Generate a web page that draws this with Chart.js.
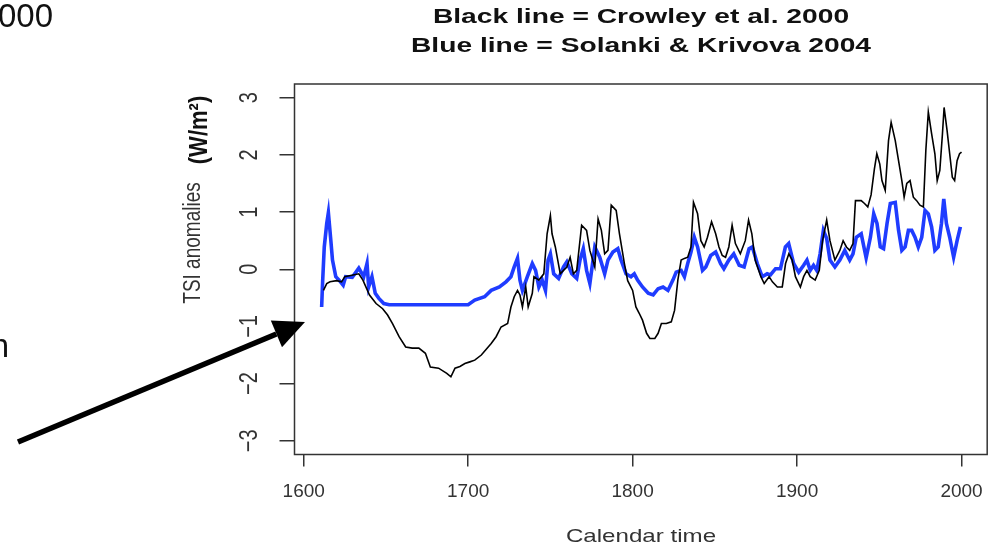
<!DOCTYPE html>
<html>
<head>
<meta charset="utf-8">
<script src="https://cdn.jsdelivr.net/npm/chart.js@4.4.1/dist/chart.umd.min.js"></script>
<style>
  html, body { margin: 0; padding: 0; background: #fff; }
  #wrap { position: relative; width: 997px; height: 547px; }
</style>
</head>
<body>
<div id="wrap"><canvas id="tsiChart"></canvas></div>
<script>
const titleLines = ['Black line = Crowley et al. 2000', 'Blue line = Solanki & Krivova 2004'];
const xTicks = [1600, 1700, 1800, 1900, 2000];
const yTicks = [-3, -2, -1, 0, 1, 2, 3];

// Crowley et al. 2000 (black)
const crowleyYears = [1612, 1614, 1616, 1620, 1623, 1625, 1630, 1633.5, 1636, 1640, 1644, 1648, 1651, 1654, 1658, 1662, 1666, 1670, 1674, 1677,
  1682, 1687, 1689.5, 1692, 1695, 1698, 1701, 1704, 1708, 1711, 1714, 1717, 1720, 1724, 1726, 1728, 1730, 1731.5, 1733, 1735,
  1736.5, 1739, 1740, 1743, 1746, 1748, 1750, 1751, 1753, 1756, 1758, 1760, 1762, 1764, 1766, 1769, 1772, 1774, 1777, 1779,
  1781, 1783, 1785, 1787, 1790, 1792, 1795, 1797, 1800, 1802, 1804, 1806, 1808.5, 1810.5, 1813.5, 1815.5, 1817.5, 1820.5, 1823.5, 1825.5,
  1827.5, 1829.5, 1831.5, 1833.5, 1835.5, 1837, 1839.5, 1841.5, 1843.5, 1845.5, 1848, 1850.5, 1852.5, 1854.5, 1856.5, 1858.5,
  1860.5, 1862.5, 1865.5, 1868.5, 1870.5, 1872.5, 1874.5, 1878, 1880, 1883, 1885, 1888, 1891, 1893, 1895, 1897, 1899, 1902, 1904, 1906,
  1908, 1911, 1913.5, 1915.5, 1918, 1920, 1923, 1926, 1928, 1930, 1932, 1934, 1935.5, 1939, 1941, 1943, 1945, 1947, 1948.5, 1950.3,
  1951.6, 1953.6, 1955.6, 1957.2, 1959.7, 1961.7, 1963.7, 1965.1, 1966.7, 1968.7, 1970.7, 1972.7, 1974.7, 1976.8, 1978.3, 1979.8, 1981.8, 1983.8, 1985.2, 1986.8,
  1988.4, 1989.4, 1991.2, 1992.8, 1994.4, 1995.8, 1997.3, 1998.8, 2000];
const crowleyTsi = [-0.37, -0.25, -0.22, -0.2, -0.22, -0.13, -0.1, -0.08, -0.19, -0.45, -0.6, -0.69, -0.8, -0.95, -1.18, -1.36, -1.38, -1.38, -1.47, -1.71,
  -1.73, -1.82, -1.88, -1.73, -1.7, -1.65, -1.62, -1.59, -1.5, -1.4, -1.3, -1.18, -1.01, -0.95, -0.66, -0.48, -0.37, -0.45, -0.66, -0.31,
  -0.66, -0.42, -0.13, -0.19, -0.08, 0.62, 0.94, 0.62, 0.39, -0.08, -0.02, 0.04, 0.21, -0.08, -0.02, 0.77, 0.68, 0.33, 0.04, 0.88,
  0.68, 0.27, 0.33, 1.12, 1.03, 0.62, 0.1, -0.2, -0.37, -0.66, -0.77, -0.89, -1.12, -1.21, -1.21, -1.12, -0.95, -0.95, -0.92, -0.72,
  -0.19, 0.16, 0.19, 0.21, 0.39, 1.17, 0.97, 0.5, 0.39, 0.56, 0.83, 0.62, 0.39, 0.24, 0.21, 0.39,
  0.77, 0.45, 0.27, 0.5, 0.86, 0.62, 0.16, -0.13, -0.25, -0.13, -0.22, -0.31, -0.31, 0.1, 0.27, 0.16, -0.13, -0.31, -0.13, -0.02,
  -0.13, -0.19, -0.02, 0.5, 0.86, 0.5, 0.16, 0.33, 0.5, 0.39, 0.33, 0.45, 1.2, 1.2, 1.15, 1.09, 1.3, 1.75, 2.02, 1.84,
  1.55, 1.38, 2.25, 2.57, 2.25, 1.9, 1.55, 1.26, 1.5, 1.55, 1.26, 1.2, 1.12, 1.09, 2.08, 2.75, 2.37, 2.02, 1.55, 1.73,
  2.37, 2.83, 2.43, 2.02, 1.61, 1.55, 1.9, 2.02, 2.05];

// Solanki & Krivova 2004 (blue)
const solankiYears = [1610.9, 1611.5, 1612.5, 1614, 1615, 1616.5, 1617.5, 1619.5, 1621.5, 1624, 1625.5, 1629.5, 1633.5, 1636.5, 1638.5, 1639.5, 1641.5, 1643.5, 1645.7, 1648.7,
  1652, 1700, 1704, 1710, 1714, 1719, 1723, 1726, 1728, 1730, 1731.5, 1733, 1736, 1739, 1741, 1743, 1745, 1747, 1748.6, 1750,
  1752, 1755, 1758, 1760, 1763, 1766, 1768, 1770, 1772, 1774, 1777, 1780, 1783, 1785, 1788, 1791, 1793, 1796, 1799, 1801,
  1803, 1806, 1809.5, 1812.5, 1815.5, 1818.5, 1821.5, 1824.5, 1826.5, 1829.5, 1831.5, 1833.5, 1835.5, 1837.5, 1839.5, 1842.5, 1844.5, 1847.5, 1850.5, 1853.5,
  1855.5, 1858.5, 1861.5, 1864.8, 1867.8, 1870.8, 1872.8, 1875.8, 1878.8, 1881.8, 1883.8, 1886.9, 1889.9, 1892.9, 1894.9, 1897.9, 1901, 1904, 1906, 1908,
  1910, 1912, 1914, 1916, 1918, 1920, 1923, 1926, 1929, 1932, 1934, 1936, 1939, 1942, 1944.6, 1946.6, 1948.6, 1950.6, 1952.6, 1954.7,
  1956.7, 1959.7, 1961.7, 1963.7, 1965.7, 1967.7, 1969.7, 1971.7, 1973.7, 1975.8, 1977.8, 1979.8, 1981.8, 1983.8, 1985.8, 1987.8, 1989.2, 1990.8, 1992.8, 1995.2,
  1997.3, 1999.3];
const solankiTsi = [-0.66, -0.22, 0.39, 0.8, 0.99, 0.5, 0.16, -0.13, -0.19, -0.28, -0.13, -0.14, 0.02, -0.13, 0.1, -0.31, -0.13, -0.42, -0.51, -0.6,
  -0.62, -0.62, -0.54, -0.48, -0.37, -0.31, -0.22, -0.13, 0.04, 0.19, -0.19, -0.37, -0.13, 0.1, -0.02, -0.31, -0.19, -0.37, 0.16, 0.27,
  -0.08, -0.16, 0.04, 0.13, -0.08, -0.16, 0.16, 0.36, -0.02, -0.25, 0.39, 0.21, -0.08, 0.16, 0.3, 0.36, 0.16, -0.08, -0.13, -0.08,
  -0.19, -0.31, -0.42, -0.45, -0.34, -0.31, -0.37, -0.19, -0.05, -0.02, -0.13, 0.1, 0.3, 0.56, 0.39, -0.02, 0.04, 0.24, 0.3, 0.1,
  0.01, 0.16, 0.27, 0.07, 0.04, 0.36, 0.39, 0.1, -0.13, -0.08, -0.1, 0.01, 0.01, 0.39, 0.45, 0.1, -0.05, 0.07, 0.16, -0.02,
  0.07, -0.02, 0.27, 0.68, 0.54, 0.16, 0.04, 0.16, 0.33, 0.16, 0.27, 0.56, 0.62, 0.2, 0.56, 0.97, 0.8, 0.39, 0.36, 0.8,
  1.15, 1.17, 0.68, 0.33, 0.39, 0.68, 0.68, 0.56, 0.39, 0.56, 1.03, 0.97, 0.74, 0.33, 0.39, 0.8, 1.23, 0.8, 0.56, 0.21,
  0.5, 0.74];

const toPoints = (xs, ys) => xs.map((x, i) => ({ x: x, y: ys[i] }));

// stretched text helper (the original figure is stretched sideways)
const stretchText = (ctx, text, x, y, opts) => {
  ctx.save();
  ctx.translate(x, y);
  ctx.scale(opts.sx || 1, 1);
  if (opts.rotate) ctx.rotate(-Math.PI / 2);
  ctx.font = opts.font;
  ctx.fillStyle = opts.color || '#222';
  ctx.textAlign = opts.align || 'center';
  ctx.textBaseline = opts.baseline || 'middle';
  ctx.fillText(text, 0, 0);
  ctx.restore();
};

const rDecor = {
  id: 'rDecor',
  afterDraw(chart) {
    const { ctx, chartArea: a, scales } = chart;
    const yScale = scales.y;

    // plot box
    ctx.save();
    ctx.strokeStyle = '#333';
    ctx.lineWidth = 1.5;
    ctx.strokeRect(a.left, a.top, a.right - a.left, a.bottom - a.top);
    ctx.restore();

    // y tick labels, rotated like R
    yTicks.forEach(v => {
      const label = v < 0 ? '\u2212' + Math.abs(v) : String(v);
      stretchText(ctx, label, 250, yScale.getPixelForValue(v), {
        font: '20px "Liberation Sans"', sx: 1.3, rotate: true, color: '#333'
      });
    });

    // y axis title
    stretchText(ctx, 'TSI anomalies', 200, 243, {
      font: '19px "Liberation Sans"', sx: 1.3, rotate: true, baseline: 'alphabetic', color: '#333'
    });
    stretchText(ctx, '(W/m\u00b2)', 207, 130, {
      font: 'bold 22px "Liberation Sans"', sx: 1.15, rotate: true, baseline: 'alphabetic', color: '#111'
    });

    // titles
    stretchText(ctx, titleLines[0], 641, 17, { font: 'bold 20px "Liberation Sans"', sx: 1.41, color: '#111' });
    stretchText(ctx, titleLines[1], 641, 46, { font: 'bold 20px "Liberation Sans"', sx: 1.41, color: '#111' });

    // x axis title
    stretchText(ctx, 'Calendar time', 641, 537, { font: '19px "Liberation Sans"', sx: 1.27, color: '#333' });

    // slide text cut off on the left
    ctx.save();
    ctx.fillStyle = '#111';
    ctx.font = '33px "Liberation Sans"';
    ctx.textAlign = 'right';
    ctx.textBaseline = 'alphabetic';
    ctx.fillText('2000', 53, 27);
    ctx.fillText('n', 9, 357);
    ctx.restore();

    // arrow pointing at the start of the series
    const tail = { x: 18, y: 442 };
    const tip = { x: 305, y: 322 };
    const ang = Math.atan2(tip.y - tail.y, tip.x - tail.x);
    const headLen = 31, headHalf = 14.5;
    const bx = tip.x - headLen * Math.cos(ang), by = tip.y - headLen * Math.sin(ang);
    ctx.save();
    ctx.strokeStyle = '#000';
    ctx.fillStyle = '#000';
    ctx.lineWidth = 5.5;
    ctx.beginPath();
    ctx.moveTo(tail.x, tail.y);
    ctx.lineTo(bx, by);
    ctx.stroke();
    ctx.beginPath();
    ctx.moveTo(tip.x, tip.y);
    ctx.lineTo(bx - headHalf * Math.sin(ang), by + headHalf * Math.cos(ang));
    ctx.lineTo(bx + headHalf * Math.sin(ang), by - headHalf * Math.cos(ang));
    ctx.closePath();
    ctx.fill();
    ctx.restore();
  }
};

new Chart(document.getElementById('tsiChart'), {
  type: 'line',
  data: {
    datasets: [
      {
        label: 'Crowley et al. 2000',
        data: toPoints(crowleyYears, crowleyTsi),
        borderColor: '#000',
        borderWidth: 1.6,
        pointRadius: 0,
        tension: 0,
        fill: false
      },
      {
        label: 'Solanki & Krivova 2004',
        data: toPoints(solankiYears, solankiTsi),
        borderColor: '#1f3cff',
        borderWidth: 3.6,
        pointRadius: 0,
        tension: 0,
        fill: false
      }
    ]
  },
  options: {
    responsive: true,
    maintainAspectRatio: false,
    animation: false,
    devicePixelRatio: 1,
    layout: { padding: { left: 278.5, top: 84, right: 9, bottom: 0 } },
    plugins: { legend: { display: false }, tooltip: { enabled: false }, title: { display: false } },
    scales: {
      x: {
        type: 'linear',
        min: 1594.4,
        max: 2015.6,
        afterBuildTicks: scale => { scale.ticks = xTicks.map(v => ({ value: v })); },
        afterFit: scale => { scale.height = 92.5; },
        border: { display: false },
        grid: { drawOnChartArea: false, drawTicks: true, tickLength: 12, color: '#333', lineWidth: 1.5 },
        ticks: {
          color: '#333',
          padding: 14,
          maxRotation: 0,
          autoSkip: false,
          font: { family: 'Liberation Sans', size: 19 },
          callback: v => String(v)
        }
      },
      y: {
        type: 'linear',
        min: -3.24,
        max: 3.24,
        afterBuildTicks: scale => { scale.ticks = yTicks.map(v => ({ value: v })); },
        afterFit: scale => { scale.width = 16; },
        border: { display: false },
        grid: { drawOnChartArea: false, drawTicks: true, tickLength: 15, color: '#333', lineWidth: 1.5 },
        ticks: { display: false }
      }
    }
  },
  plugins: [rDecor]
});
</script>
</body>
</html>
